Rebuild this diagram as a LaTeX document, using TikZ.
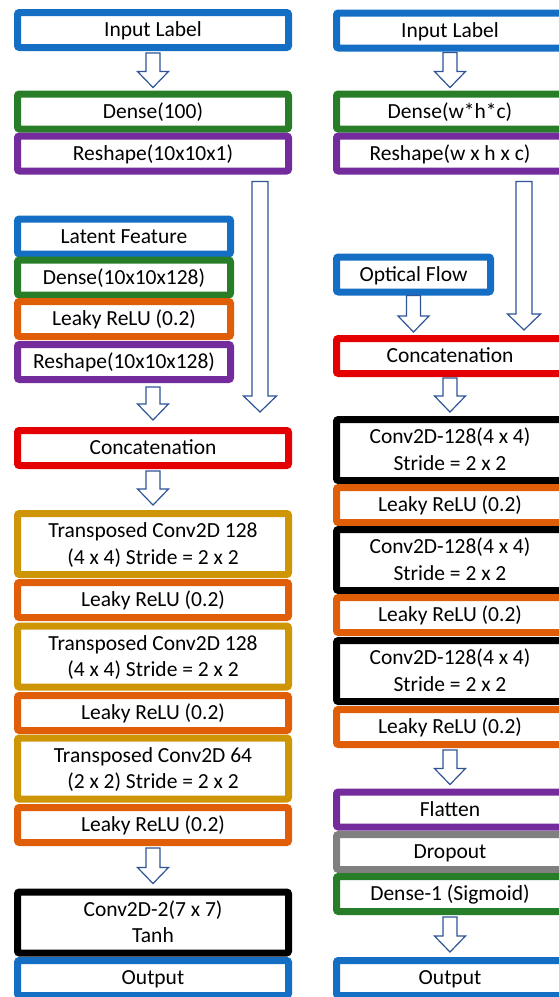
\documentclass[tikz,border=0pt]{standalone}
\usepackage{fontspec}
\setmainfont{Carlito}
\usetikzlibrary{calc}

\definecolor{lblue}{RGB}{20,110,196}
\definecolor{lgreen}{RGB}{40,126,40}
\definecolor{lpurple}{RGB}{116,44,156}
\definecolor{lorange}{RGB}{224,94,8}
\definecolor{lred}{RGB}{228,0,0}
\definecolor{lgold}{RGB}{206,150,6}
\definecolor{lgray}{RGB}{128,128,128}
\definecolor{arrowblue}{RGB}{47,85,151}

\tikzset{
  layer/.style={draw, line width=7pt, rounded corners=2pt, fill=white,
    inner sep=0pt, font=\fontsize{21.5}{26.5}\selectfont,
    text height=18pt, text depth=4.2pt},
  oneline/.style={minimum height=35pt},
  twoline/.style={minimum height=61pt, align=center, text height=44.5pt},
  leftcol/.style={minimum width=271pt},
  rightcol/.style={minimum width=227pt},
  barrow/.style={draw=arrowblue, line width=1.2pt, fill=white, line join=miter},
}

% hollow block arrow from a start point down to its tip
\newcommand\hollowarrow[3][7]{%
  \draw[barrow] let \p1=#2, \p2=#3 in
    (\x1-#1pt,\y1) -- (\x1-#1pt,\y2+16pt) -- (\x1-15.5pt-#1pt+7pt,\y2+16pt)
    -- (\x1,\y2) -- (\x1+15.5pt+#1pt-7pt,\y2+16pt) -- (\x1+#1pt,\y2+16pt)
    -- (\x1+#1pt,\y1) -- cycle;}

\begin{document}
\begin{tikzpicture}[x=1pt,y=-1pt]
\useasboundingbox (0,0) rectangle (559,997);
\clip (0,0) rectangle (559,997);
\fill[white] (0,0) rectangle (559,997);

% ---------------- generator ----------------
\node[layer, leftcol, oneline, draw=lblue]   (in1) at (153,30)    {Input Label};
\node[layer, leftcol, oneline, draw=lgreen]  (d1)  at (153,111.5) {Dense(100)};
\node[layer, leftcol, oneline, draw=lpurple] (r1)  at (153,153.5) {Reshape(10x10x1)};

\node[layer, oneline, minimum width=213pt, draw=lblue]   (lat) at (124,236.5) {Latent Feature};
\node[layer, oneline, minimum width=213pt, draw=lgreen]  (d2)  at (124,277.5) {Dense(10x10x128)};
\node[layer, oneline, minimum width=213pt, draw=lorange] (lr0) at (124,319)   {Leaky ReLU (0.2)};
\node[layer, oneline, minimum width=213pt, draw=lpurple] (r2)  at (124,362)   {Reshape(10x10x128)};

\node[layer, leftcol, oneline, draw=lred]    (cat1) at (153,448) {Concatenation};
\node[layer, leftcol, twoline, draw=lgold]   (t1)   at (153,544) {Transposed Conv2D 128\\(4 x 4) Stride = 2 x 2};
\node[layer, leftcol, oneline, draw=lorange] (lr1)  at (153,600) {Leaky ReLU (0.2)};
\node[layer, leftcol, twoline, draw=lgold]   (t2)   at (153,656.5) {Transposed Conv2D 128\\(4 x 4) Stride = 2 x 2};
\node[layer, leftcol, oneline, draw=lorange] (lr2)  at (153,713) {Leaky ReLU (0.2)};
\node[layer, leftcol, twoline, draw=lgold]   (t3)   at (153,768.5) {Transposed Conv2D 64\\(2 x 2) Stride = 2 x 2};
\node[layer, leftcol, oneline, draw=lorange] (lr3)  at (153,825) {Leaky ReLU (0.2)};
\node[layer, leftcol, twoline, draw=black]   (cv)   at (153,922.5) {Conv2D-2(7 x 7)\\Tanh};
\node[layer, leftcol, oneline, draw=lblue]   (out1) at (153,978) {Output};

% ---------------- discriminator ----------------
\node[layer, rightcol, oneline, draw=lblue]   (in2) at (450,30.5)  {Input Label};
\node[layer, rightcol, oneline, draw=lgreen]  (d3)  at (450,111.5) {Dense(w*h*c)};
\node[layer, rightcol, oneline, draw=lpurple] (r3)  at (450,153.5) {Reshape(w x h x c)};

\node[layer, oneline, minimum width=154pt, draw=lblue] (of) at (413.5,274.5) {Optical Flow};
\node[layer, rightcol, oneline, draw=lred]    (cat2) at (450,356) {Concatenation};
\node[layer, rightcol, twoline, draw=black]   (k1)   at (450,450) {Conv2D-128(4 x 4)\\Stride = 2 x 2};
\node[layer, rightcol, oneline, draw=lorange] (lr4)  at (450,505) {Leaky ReLU (0.2)};
\node[layer, rightcol, twoline, draw=black]   (k2)   at (450,560) {Conv2D-128(4 x 4)\\Stride = 2 x 2};
\node[layer, rightcol, oneline, draw=lorange] (lr5)  at (450,615) {Leaky ReLU (0.2)};
\node[layer, rightcol, twoline, draw=black]   (k3)   at (450,671) {Conv2D-128(4 x 4)\\Stride = 2 x 2};
\node[layer, rightcol, oneline, draw=lorange] (lr6)  at (450,727) {Leaky ReLU (0.2)};
\node[layer, rightcol, oneline, draw=lpurple] (fl)   at (450,809.5) {Flatten};
\node[layer, rightcol, oneline, draw=lgray]   (dr)   at (450,852) {Dropout};
\node[layer, rightcol, oneline, draw=lgreen]  (de)   at (450,894) {Dense-1 (Sigmoid)};
\node[layer, rightcol, oneline, draw=lblue]   (out2) at (450,978) {Output};

% ---------------- connectors ----------------
\coordinate (lx) at (260,0);
\coordinate (rx) at (524,0);

\hollowarrow{($(in1.south)+(0,2)$)}{($(d1.north)+(0,-3)$)}
\hollowarrow{($(in2.south)+(0,1)$)}{($(d3.north)+(0,-3)$)}
\hollowarrow[8]{($(r1.south -| lx)+(0,7)$)}{($(cat1.north -| lx)+(0,-15)$)}
\hollowarrow{($(r2.south -| cat1.north)+(0,4)$)}{($(cat1.north)+(0,-7)$)}
\hollowarrow{($(of.south)+(0,0)$)}{($(cat2.north -| of.south)+(0,-3)$)}
\hollowarrow[8]{($(r3.south -| rx)+(0,7)$)}{($(cat2.north -| rx)+(0,-5)$)}
\hollowarrow{($(cat2.south)+(0,1)$)}{($(k1.north)+(0,-4)$)}
\hollowarrow{($(cat1.south)+(0,2)$)}{($(t1.north)+(0,-5)$)}
\hollowarrow{($(lr6.south)+(0,2)$)}{($(fl.north)+(0,-4)$)}
\hollowarrow{($(lr3.south)+(0,2)$)}{($(cv.north)+(0,-5)$)}
\hollowarrow{($(de.south)+(0,2)$)}{($(out2.north)+(0,-5)$)}
\end{tikzpicture}
\end{document}
